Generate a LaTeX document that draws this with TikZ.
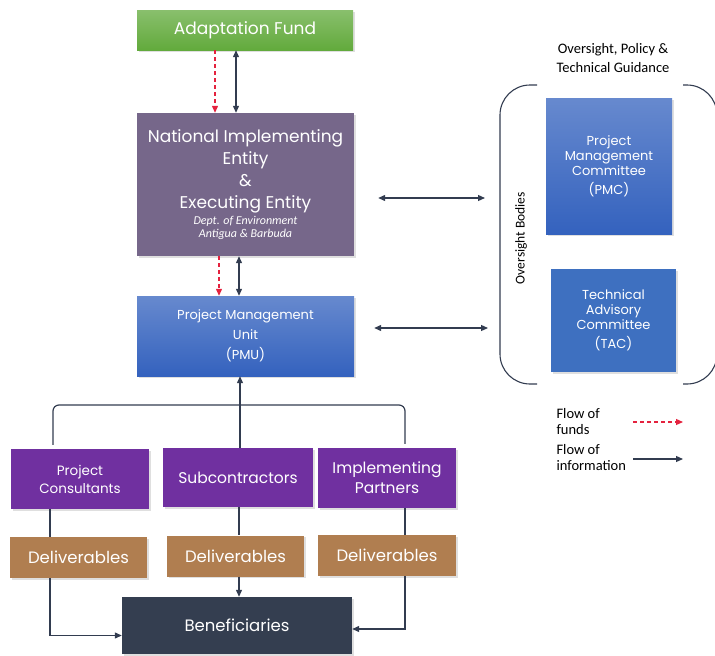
\documentclass[tikz,border=0pt]{standalone}
\usepackage{fontspec}
\setmainfont{Poppins}
\newfontfamily\calfont{Carlito}
\usetikzlibrary{arrows.meta}
\usetikzlibrary{shadows}

\definecolor{afgreen}{RGB}{98,170,60}
\definecolor{nieviolet}{RGB}{118,103,138}
\definecolor{pmblue}{RGB}{52,98,190}
\definecolor{tacblue}{RGB}{62,112,192}
\definecolor{partpurple}{RGB}{112,48,160}
\definecolor{delbrown}{RGB}{176,126,80}
\definecolor{benslate}{RGB}{52,62,80}
\definecolor{infonavy}{RGB}{50,60,80}
\definecolor{fundred}{RGB}{228,34,62}

\begin{document}
\begin{tikzpicture}[x=1pt, y=-1pt, >={Triangle[length=7pt,width=6pt]},
  box/.style 2 args={minimum width=#1pt, minimum height=#2pt, inner sep=2pt, align=center, text=white,
    drop shadow={opacity=0.25, shadow xshift=1.5pt, shadow yshift=-1.5pt}},
  info/.style={draw=infonavy, line width=1.2pt},
  funds/.style={draw=fundred, line width=1.2pt, dash pattern=on 4pt off 3pt},
  bracket/.style={draw=infonavy, line width=1.1pt, rounded corners=30pt}]
  \useasboundingbox (0,0) rectangle (715,656);

  % main column
  \node[box={216}{40}, top color=afgreen!75!white, bottom color=afgreen, font=\fontsize{17}{20}\selectfont] (af) at (245,30) {Adaptation Fund};
  \node[box={217}{143}, fill=nieviolet, font=\fontsize{17}{22}\selectfont] (nie) at (245.5,184.5)
    {National Implementing\\Entity\\\&\\Executing Entity\\[-6pt]
     {\calfont\itshape\fontsize{12}{14}\selectfont Dept. of Environment}\\[-9pt]
     {\calfont\itshape\fontsize{12}{14}\selectfont Antigua \& Barbuda}};
  \node[box={217}{80}, top color=pmblue!75!white, bottom color=pmblue, font=\fontsize{13}{20}\selectfont] (pmu) at (245.5,336)
    {Project Management\\Unit\\(PMU)};

  \draw[funds, ->] (af.south -| 215,0) -- (nie.north -| 215,0);
  \draw[info, <->] (af.south -| 236,0) -- (nie.north -| 236,0);
  \draw[funds, ->] (nie.south -| 219,0) -- (pmu.north -| 219,0);
  \draw[info, <->] (nie.south -| 239,0) -- (pmu.north -| 239,0);

  % oversight bodies
  \node[font=\calfont\fontsize{14.5}{19}\selectfont, align=center] (guide) at (613,58) {Oversight, Policy \&\\Technical Guidance};
  \node[box={126}{136}, top color=pmblue!75!white, bottom color=pmblue, font=\fontsize{13}{15}\selectfont] (pmc) at (609,166)
    {Project\\Management\\Committee\\[4pt](PMC)};
  \node[box={125}{103}, fill=tacblue, font=\fontsize{13}{15}\selectfont] (tac) at (613.5,320.5)
    {Technical\\Advisory\\Committee\\[4pt](TAC)};
  \node[rotate=90, font=\calfont\fontsize{13.5}{16}\selectfont] (bodies) at (521,238) {Oversight Bodies};
  \draw[bracket] (537,85) -- (500,85) -- (500,384) -- (537,384);
  \draw[bracket] (683,85) -- (717,85) -- (717,384) -- (683,384);

  \coordinate (nieob) at (485,198);
  \coordinate (pmuob) at (488,328);
  \draw[info, <->, shorten <=24pt] (nie.east |- nieob) -- (nieob);
  \draw[info, <->, shorten <=20pt] (pmu.east |- pmuob) -- (pmuob);

  % partners and deliverables
  \node[box={138}{60}, fill=partpurple, font=\fontsize{13.5}{18}\selectfont] (cons) at (80,479) {Project\\Consultants};
  \node[box={150}{59}, fill=partpurple, font=\fontsize{15.5}{20}\selectfont] (subs) at (238,477.5) {Subcontractors};
  \node[box={138}{60}, fill=partpurple, font=\fontsize{15.5}{20}\selectfont] (impl) at (387,478) {Implementing\\Partners};

  \node[box={137}{41}, fill=delbrown, font=\fontsize{16.5}{18}\selectfont] (del1) at (78.5,557.5) {Deliverables};
  \node[box={137}{41}, fill=delbrown, font=\fontsize{16.5}{18}\selectfont] (del2) at (235.5,556) {Deliverables};
  \node[box={138}{41}, fill=delbrown, font=\fontsize{16.5}{18}\selectfont] (del3) at (387,555.5) {Deliverables};
  \node[box={230}{57}, fill=benslate, font=\fontsize{16.5}{18}\selectfont] (ben) at (237,625.5) {Beneficiaries};

  \coordinate (join) at (240,405);
  \draw[info, rounded corners=6pt] ([yshift=4pt]cons.north -| 53,0) |- (join) -| ([yshift=4pt]impl.north -| 405,0);
  \draw[info, ->] (subs.north -| 240,0) -- (pmu.south -| 240,0);
  \draw[info] (cons.south -| 50,0) -- (del1.north -| 50,0);
  \draw[info] (subs.south -| 239,0) -- (del2.north -| 239,0);
  \draw[info] (impl.south -| 405,0) -- (del3.north -| 405,0);
  \draw[info, ->] (del2.south -| 239,0) -- (ben.north -| 239,0);
  \draw[info, ->] (del1.south -| 50,0) |- ([yshift=-10pt]ben.west);
  \draw[info, ->] (del3.south -| 405,0) |- ([yshift=-3.5pt]ben.east);

  % legend
  \node[anchor=west, align=left, font=\calfont\fontsize{14.5}{16}\selectfont] (lgfunds) at (553,422) {Flow of\\funds};
  \node[anchor=west, align=left, font=\calfont\fontsize{14.5}{16}\selectfont] (lginfo) at (553,458) {Flow of\\information};
  \coordinate (fundsend) at (683,422);
  \coordinate (infoend) at (683,459);
  \draw[funds, ->] ([xshift=-50pt]fundsend) -- (fundsend);
  \draw[info, ->] ([xshift=-50pt]infoend) -- (infoend);
\end{tikzpicture}
\end{document}
